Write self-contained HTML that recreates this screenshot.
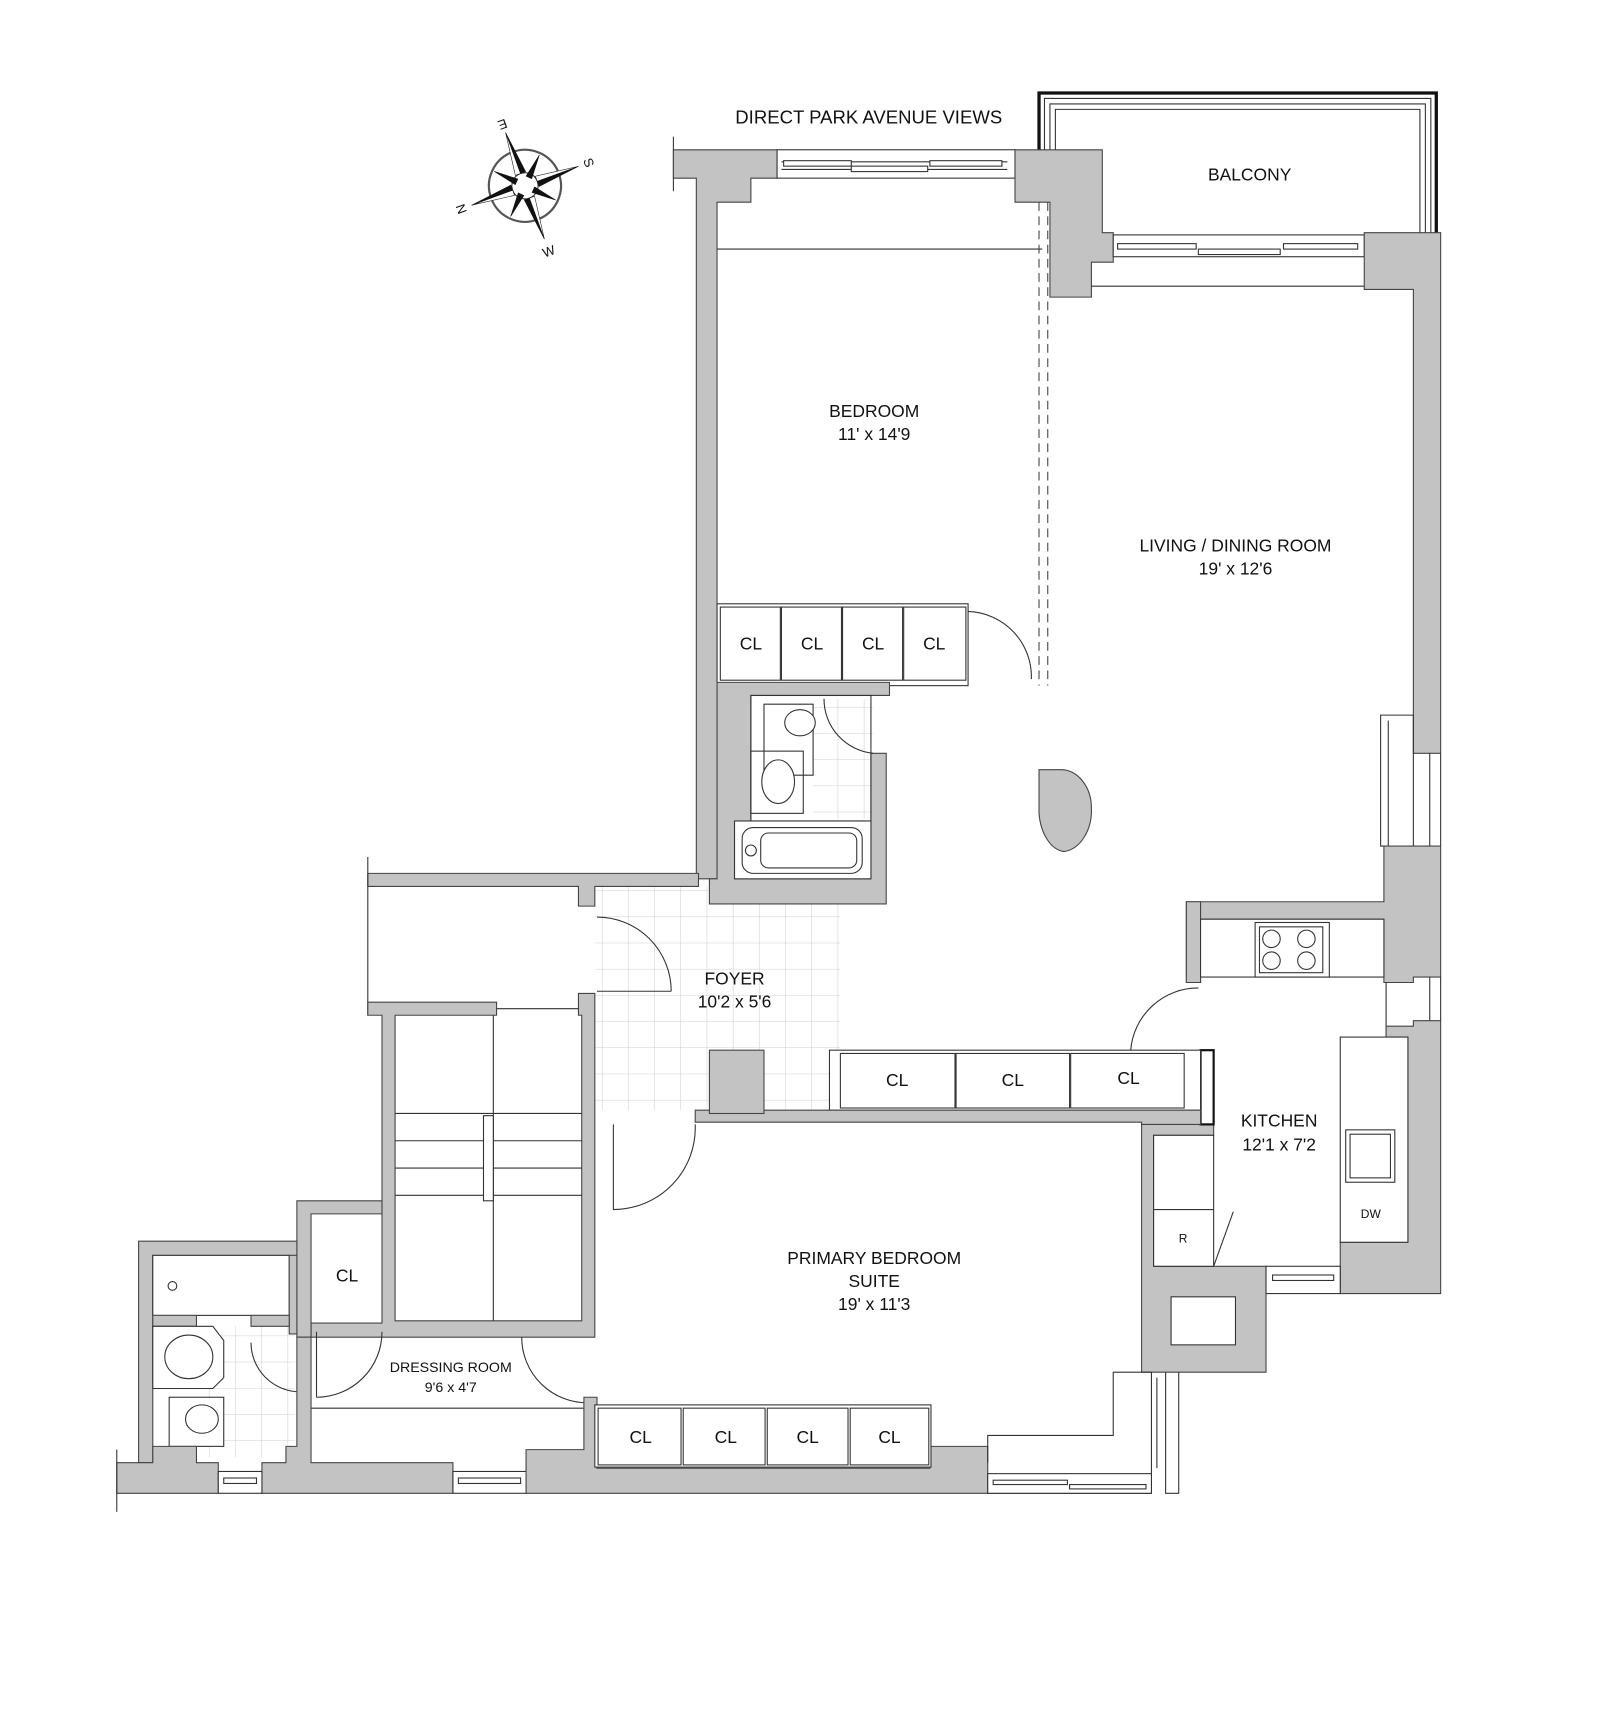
<!DOCTYPE html>
<html><head><meta charset="utf-8"><style>
html,body{margin:0;padding:0;background:#fff}
svg{display:block}
text{font-family:"Liberation Sans",sans-serif;fill:#111;text-anchor:middle}
.w{fill:#c3c3c3;stroke:#444;stroke-width:1}
.l{fill:none;stroke:#333;stroke-width:1}
.f{fill:#fff;stroke:#333;stroke-width:1}
.t{stroke:#cfcfcf;stroke-width:1}
.cl{font-size:16px}
</style></head><body>
<svg width="1600" height="1714" viewBox="0 0 1466 1570" xmlns="http://www.w3.org/2000/svg">
<defs>
<pattern id="tile" width="24" height="24" patternUnits="userSpaceOnUse"><path d="M24 0V24M0 24H24" class="t" fill="none"/></pattern>
</defs>

<!-- compass -->
<g transform="translate(481,170) rotate(-20)">
<circle r="33" fill="none" stroke="#555" stroke-width="2"/>
<circle r="12" fill="#fff" stroke="#333"/>
<g fill="#111" stroke="#111" stroke-width="0.5">
<polygon points="0,-52 5,-12 0,-12"/><polygon points="0,-52 -5,-12 0,-12" fill="#fff"/>
<polygon points="52,0 12,5 12,0"/><polygon points="52,0 12,-5 12,0" fill="#fff"/>
<polygon points="0,52 -5,12 0,12"/><polygon points="0,52 5,12 0,12" fill="#fff"/>
<polygon points="-52,0 -12,-5 -12,0"/><polygon points="-52,0 -12,5 -12,0" fill="#fff"/>
<polygon points="22,-22 8,-4 4,-8"/><polygon points="22,22 4,8 8,4"/><polygon points="-22,22 -8,4 -4,8"/><polygon points="-22,-22 -4,-8 -8,-4"/>
</g>
<text x="0" y="-56" font-size="12" transform="rotate(180 0 -60)">E</text>
<text x="62" y="4" font-size="12" transform="rotate(90 62 0)">S</text>
<text x="0" y="68" font-size="12">W</text>
<text x="-62" y="4" font-size="12" transform="rotate(-90 -62 0)">N</text>
</g>

<!-- tiles -->
<rect x="545" y="812" width="225" height="205" fill="url(#tile)"/>
<rect x="745" y="640" width="55" height="110" fill="url(#tile)"/>
<rect x="180" y="1215" width="90" height="120" fill="url(#tile)"/>

<!-- balcony -->
<path d="M952 137V85H1316V213" fill="none" stroke="#111" stroke-width="3"/>
<path d="M957 137V90H1311V213M962 137V95H1306V213M967 137V100H1301V213" class="l"/>

<!-- top walls -->
<line x1="617" y1="125" x2="617" y2="175" class="l"/>
<polygon class="w" points="617,137 712,137 712,163 688,163 688,185 657,185 657,805 638,805 638,163 617,163"/>
<rect x="712" y="137" width="218" height="26" class="f"/>
<path d="M716 148H923M716 155H923" class="l"/>
<rect x="718" y="147" width="62" height="5" class="f"/><rect x="780" y="152" width="70" height="5" class="f"/><rect x="852" y="147" width="66" height="5" class="f"/>
<polygon class="w" points="930,137 1010,137 1010,213 1020,213 1020,240 1000,240 1000,272 962,272 962,185 930,185"/>
<rect x="1020" y="215" width="230" height="20" class="f"/>
<rect x="1024" y="223" width="72" height="5" class="f"/><rect x="1098" y="228" width="75" height="5" class="f"/><rect x="1176" y="223" width="68" height="5" class="f"/>
<line x1="1000" y1="262" x2="1250" y2="262" class="l"/>
<polygon class="w" points="1250,213 1320,213 1320,690 1295,690 1295,265 1250,265"/>
<path d="M1265 655H1295V775H1265ZM1272 660V775M1310 690V775M1320 690V775" class="l"/>
<polygon class="w" points="1268,775 1320,775 1320,895 1295,895 1295,900 1268,900 1268,842 1087,842 1087,900 1100,900 1100,842 1087,842 1087,826 1268,826"/>
<polygon class="w" points="1087,826 1100,826 1100,900 1087,900"/>
<path d="M1310 895V935M1320 895V935M1270 900V950" class="l"/>
<polygon class="w" points="1295,935 1320,935 1320,1185 1228,1185 1228,1138 1290,1138 1290,950 1270,950 1270,940 1295,940"/>

<!-- kitchen -->
<rect x="1100" y="842" width="168" height="53" class="f"/>
<rect x="1150" y="845" width="68" height="50" class="f"/>
<g class="l"><circle cx="1165" cy="860" r="8"/><circle cx="1165" cy="880" r="8"/><circle cx="1197" cy="860" r="8"/><circle cx="1197" cy="880" r="8"/><rect x="1154" y="849" width="58" height="42"/></g>
<rect x="1228" y="950" width="62" height="188" class="f"/>
<rect x="1233" y="1035" width="45" height="48" class="f"/><rect x="1237" y="1039" width="37" height="40" class="f"/>
<text x="1256" y="1116" font-size="11">DW</text>
<polygon class="w" points="1046,1030 1112,1030 1112,1040 1057,1040 1057,1160 1160,1160 1160,1257 1046,1257"/>
<rect x="1073" y="1188" width="59" height="44" class="f"/>
<rect x="1160" y="1160" width="68" height="25" class="f"/><rect x="1166" y="1168" width="56" height="5" class="f"/>
<rect x="1057" y="1040" width="55" height="120" class="f"/>
<line x1="1057" y1="1108" x2="1112" y2="1108" class="l"/>
<text x="1084" y="1138" font-size="11">R</text>
<path d="M1112 1160L1130 1110" class="l"/>
<rect x="1100" y="962" width="12" height="68" fill="#fff" stroke="#111" stroke-width="2"/>
<path d="M1098 905A62 62 0 0 0 1036 962" class="l"/>

<!-- foyer closets -->
<rect x="760" y="962" width="340" height="55" class="f"/>
<rect x="770" y="965" width="105" height="50" class="f"/><rect x="876" y="965" width="104" height="50" class="f"/><rect x="981" y="965" width="104" height="50" class="f"/>
<polygon class="w" points="637,1017 1100,1017 1100,1030 1046,1030 1046,1028 637,1028"/>
<rect x="650" y="962" width="50" height="58" class="w"/>

<!-- bedroom -->
<line x1="657" y1="228" x2="955" y2="228" class="l"/>
<path d="M952 185V628M960 185V628" fill="none" stroke="#444" stroke-dasharray="8 5"/>
<rect x="657" y="553" width="230" height="75" class="f"/>
<rect x="660" y="556" width="55" height="67" class="f"/><rect x="716" y="556" width="55" height="67" class="f"/><rect x="772" y="556" width="55" height="67" class="f"/><rect x="828" y="556" width="57" height="67" class="f"/>
<path d="M887 560A60 60 0 0 1 945 622" class="l"/>
<!-- bathroom -->
<polygon class="w" points="657,625 815,625 815,637 688,637 688,752 673,752 673,805 798,805 798,690 812,690 812,828 650,828 650,805 657,805"/>
<rect x="688" y="637" width="110" height="115" fill="none" stroke="#333"/>
<rect x="673" y="752" width="125" height="53" class="f"/>
<rect x="680" y="758" width="110" height="42" rx="10" class="f"/><rect x="697" y="763" width="88" height="32" rx="7" class="f"/>
<circle cx="688" cy="779" r="5" class="f"/>
<path d="M700 645H745V710H700Z" class="l"/><ellipse cx="733" cy="662" rx="14" ry="12" class="f"/>
<rect x="688" y="688" width="48" height="57" fill="none" stroke="#333"/><ellipse cx="713" cy="716" rx="15" ry="20" class="f"/>
<path d="M755 640A50 50 0 0 0 800 690" class="l"/>
<!-- column -->
<path d="M952 705H972A28 35 0 0 1 1000 740A28 38 0 0 1 975 780A25 40 0 0 1 952 745Z" class="w"/>

<!-- upper left area & stairs -->
<polygon class="w" points="337,800 640,800 640,812 545,812 545,830 530,830 530,812 337,812"/>
<line x1="337" y1="785" x2="337" y2="930" class="l"/>
<polygon class="w" points="337,918 455,918 455,930 362,930 362,1210 533,1210 533,930 530,930 530,910 545,910 545,1225 285,1225 285,1212 350,1212 350,930 337,930"/>
<line x1="455" y1="924" x2="530" y2="924" class="l"/>
<path d="M362 1020H533M362 1045H533M362 1070H533M362 1095H533M452 930V1210" class="l"/>
<rect x="443" y="1022" width="9" height="78" class="f"/>
<path d="M547 840A68 68 0 0 1 615 908" class="l"/><line x1="547" y1="908" x2="615" y2="908" class="l"/>
<path d="M637 1030A75 75 0 0 1 562 1108V1030" class="l"/>

<!-- left bath/CL/dressing -->
<polygon class="w" points="272,1100 350,1100 350,1112 285,1112 285,1225 272,1225"/>
<polygon class="w" points="127,1137 272,1137 272,1150 140,1150 140,1340 127,1340"/>
<rect x="140" y="1150" width="125" height="55" class="f"/>
<circle cx="158" cy="1178" r="4" class="f"/>
<polygon class="w" points="265,1150 272,1150 272,1222 265,1222"/>
<polygon class="w" points="140,1205 180,1205 180,1215 140,1215"/><polygon class="w" points="230,1205 265,1205 265,1215 230,1215"/>
<polygon class="f" points="140,1215 195,1215 205,1228 205,1262 195,1272 140,1272"/><ellipse cx="173" cy="1243" rx="22" ry="20" class="f"/>
<rect x="155" y="1280" width="50" height="45" class="f"/><ellipse cx="185" cy="1300" rx="15" ry="13" class="f"/>
<path d="M230 1230A45 45 0 0 0 275 1275" class="l"/>
<path d="M290 1280A60 60 0 0 0 350 1220" class="l"/><line x1="290" y1="1220" x2="290" y2="1280" class="l"/>
<path d="M478 1225A60 60 0 0 0 540 1285" class="l"/>
<line x1="285" y1="1290" x2="535" y2="1290" class="l"/>
<polygon class="w" points="107,1340 127,1340 127,1340 140,1340 140,1325 180,1325 180,1340 200,1340 200,1368 107,1368"/>
<polygon class="w" points="240,1340 262,1340 262,1325 272,1325 272,1225 285,1225 285,1340 415,1340 415,1368 240,1368"/>
<rect x="200" y="1348" width="40" height="20" class="f"/><rect x="205" y="1354" width="30" height="5" class="f"/>
<rect x="415" y="1348" width="67" height="20" class="f"/><rect x="420" y="1354" width="57" height="5" class="f"/>
<polygon class="w" points="482,1368 482,1328 535,1328 535,1280 547,1280 547,1345 852,1345 852,1325 905,1325 905,1368"/>
<line x1="107" y1="1328" x2="107" y2="1385" class="l"/>
<!-- bottom closets -->
<rect x="545" y="1287" width="308" height="57" class="f"/>
<rect x="548" y="1290" width="76" height="52" class="f"/><rect x="626" y="1290" width="75" height="52" class="f"/><rect x="703" y="1290" width="74" height="52" class="f"/><rect x="779" y="1290" width="72" height="52" class="f"/>
<!-- bottom right -->
<path d="M905 1340V1315H1020V1257H1055M1055 1257V1368H905M1068 1257V1368H1080V1257" class="l"/>
<rect x="905" y="1350" width="150" height="18" class="f"/><rect x="910" y="1356" width="68" height="4" class="f"/><rect x="980" y="1360" width="70" height="4" class="f"/>
<line x1="1060" y1="1262" x2="1060" y2="1345" class="l"/>

<!-- labels -->
<text x="796" y="113" font-size="17">DIRECT PARK AVENUE VIEWS</text>
<text x="1145" y="165" font-size="16">BALCONY</text>
<text x="801" y="382" font-size="16">BEDROOM</text><text x="801" y="403" font-size="16">11' x 14'9</text>
<text x="1132" y="505" font-size="16">LIVING / DINING ROOM</text><text x="1132" y="526" font-size="16">19' x 12'6</text>
<text x="673" y="902" font-size="16">FOYER</text><text x="673" y="923" font-size="16">10'2 x 5'6</text>
<text x="1172" y="1032" font-size="16">KITCHEN</text><text x="1172" y="1054" font-size="16">12'1 x 7'2</text>
<text x="801" y="1158" font-size="16">PRIMARY BEDROOM</text><text x="801" y="1179" font-size="16">SUITE</text><text x="801" y="1200" font-size="16">19' x 11'3</text>
<text x="413" y="1257" font-size="13">DRESSING ROOM</text><text x="413" y="1275" font-size="13">9'6 x 4'7</text>
<text x="318" y="1174" class="cl">CL</text>
<g class="cl"><text x="688" y="595">CL</text><text x="744" y="595">CL</text><text x="800" y="595">CL</text><text x="856" y="595">CL</text>
<text x="822" y="995">CL</text><text x="928" y="995">CL</text><text x="1034" y="993">CL</text>
<text x="587" y="1322">CL</text><text x="665" y="1322">CL</text><text x="740" y="1322">CL</text><text x="815" y="1322">CL</text></g>
</svg>
</body></html>
